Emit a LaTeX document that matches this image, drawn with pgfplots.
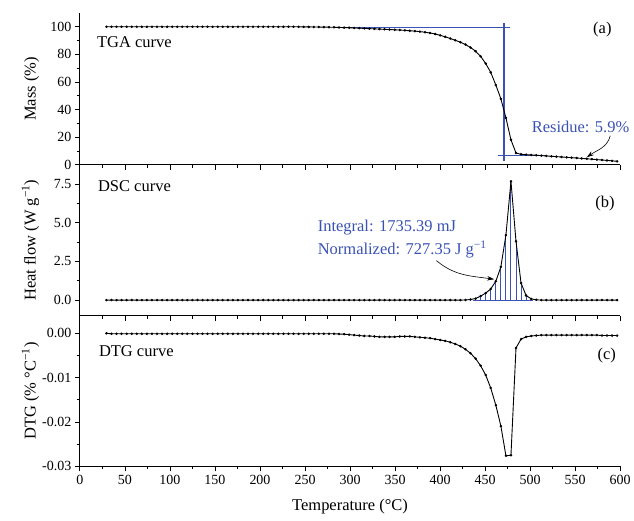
\documentclass[border=0pt]{standalone}
\usepackage{fontspec}
\setmainfont{Liberation Serif}
\usepackage{pgfplots}
\pgfplotsset{compat=1.18}
\usepackage{pgfplotstable}
\usetikzlibrary{arrows.meta}
\definecolor{ablue}{RGB}{58,82,180}
\newcommand\lf{\fontsize{16.5}{19.8}\selectfont}
\newcommand\tf{\fontsize{14}{16.8}\selectfont}

\pgfplotstableread{
T M H D
29.5 100.0 0 0.0000
35.1 100.0 0 -0.0001
40.7 100.0 0 -0.0001
46.3 100.0 0 -0.0001
52.0 100.0 0 -0.0001
57.6 100.0 0 -0.0001
63.2 100.0 0 -0.0001
68.8 100.0 0 -0.0001
74.4 100.0 0 -0.0001
80.0 100.0 0 -0.0001
85.7 100.0 0 -0.0001
91.3 100.0 0 -0.0001
96.9 100.0 0 -0.0001
102.5 100.0 0 -0.0001
108.1 100.0 0 -0.0001
113.7 100.0 0 -0.0001
119.3 100.0 0 -0.0001
125.0 100.0 0 -0.0001
130.6 100.0 0 -0.0001
136.2 100.0 0 -0.0001
141.8 100.0 0 -0.0001
147.4 100.0 0 -0.0001
153.0 100.0 0 -0.0001
158.6 100.0 0 -0.0001
164.3 100.0 0 -0.0001
169.9 100.0 0 -0.0001
175.5 100.0 0 -0.0001
181.1 100.0 0 -0.0001
186.7 100.0 0 -0.0001
192.3 100.0 0 -0.0001
198.0 100.0 0 -0.0001
203.6 100.0 0 -0.0001
209.2 100.0 0 -0.0001
214.8 100.0 0 -0.0001
220.4 100.0 0 -0.0001
226.0 100.0 0 -0.0001
231.6 100.0 0 -0.0001
237.3 100.0 0 -0.0001
242.9 100.0 0 -0.0001
248.5 99.95 0 -0.0001
254.1 99.9 0 -0.0001
259.7 99.85 0 -0.0001
265.3 99.8 0 -0.0001
270.9 99.75 0 -0.0001
276.6 99.7 0 -0.0001
282.2 99.6 0 -0.0001
287.8 99.5 0 -0.00015
293.4 99.4 0 -0.0002
299.0 99.3 0 -0.0003
304.6 99.15 0 -0.0004
310.3 99.0 0 -0.0005
315.9 98.8 0 -0.0006
321.5 98.65 0 -0.0006
327.1 98.5 0 -0.0007
332.7 98.3 0 -0.0008
338.3 98.15 0 -0.0008
343.9 98.0 0 -0.0008
349.6 97.8 0 -0.0008
355.2 97.6 0 -0.0007
360.8 97.4 0 -0.0007
366.4 97.1 0 -0.0007
372.0 96.85 0 -0.0008
377.6 96.5 0 -0.0009
383.2 96.05 0 -0.0010
388.9 95.5 0 -0.0011
394.5 94.75 0 -0.0013
400.1 93.8 0 -0.0015
405.7 92.7 0 -0.0017
411.3 91.5 0 -0.0020
416.9 90.2 0 -0.0024
422.6 88.8 0 -0.0029
428.2 87.1 0.01 -0.0036
433.8 85.0 0.04 -0.0045
439.4 82.3 0.10 -0.0057
445.0 78.6 0.26 -0.0073
450.6 73.4 0.45 -0.0094
456.2 67.0 0.72 -0.0123
461.9 57.8 1.22 -0.0162
467.5 47.8 2.15 -0.0209
473.1 34.0 4.20 -0.0276
478.7 18.1 7.68 -0.0275
484.3 8.5 3.80 -0.0033
489.9 7.6 1.10 -0.0013
495.5 7.3 0.30 -0.0008
501.2 7.1 0.08 -0.0006
506.8 6.9 0.02 -0.0005
512.4 6.65 0 -0.0004
518.0 6.4 0 -0.0004
523.6 6.15 0 -0.0004
529.2 5.9 0 -0.0004
534.9 5.65 0 -0.0004
540.5 5.4 0 -0.0004
546.1 5.15 0 -0.0004
551.7 4.9 0 -0.0004
557.3 4.6 0 -0.0004
562.9 4.35 0 -0.0004
568.5 4.05 0 -0.0004
574.2 3.75 0 -0.0004
579.8 3.45 0 -0.0005
585.4 3.15 0 -0.0005
591.0 2.85 0 -0.0005
596.6 2.5 0 -0.0005
}\data

\tikzset{arr/.style={-{Stealth[length=7pt,width=4.5pt]}, line width=0.6pt, black}}

\pgfplotsset{
  base/.style={
    scale only axis, width=541pt,
    xmin=0, xmax=600, xtick={0,50,...,600}, minor x tick num=1,
    axis x line*=bottom, axis y line*=left,
    axis line style={-, line width=1pt},
    tick align=outside, major tick length=5pt, minor tick length=3pt,
    every tick/.style={black, line width=0.8pt},
    tick label style={font=\tf},
    label style={font=\lf},
    ylabel style={at={(axis description cs:-0.0749,0.5)}, anchor=south, inner sep=0pt},
    /pgf/number format/assume math mode=true,
    clip=false,
  },
  curve/.style={black, line width=0.9pt, mark=*, mark size=0.75pt, mark options={solid, fill=black}},
}

\begin{document}
\begin{tikzpicture}
\path (0pt,0pt) (634pt,521pt);

% (a) TGA
\begin{axis}[base, at={(80pt,356pt)}, anchor=south west, height=152pt,
  ymin=0, ymax=110, ytick={0,20,...,100}, minor y tick num=1,
  xticklabels={}, ylabel={Mass (\%)}]
\addplot[ablue, line width=1.1pt] coordinates {(292,99.6) (477.6,99.6)};
\addplot[ablue, line width=1.1pt] coordinates {(471,102.5) (471,2.4)};
\addplot[ablue, line width=1.1pt] coordinates {(464,6.8) (517,6.8)};
\addplot[curve] table[x=T,y=M]{\data};
\node[anchor=west, inner sep=0pt, font=\lf] at (rel axis cs:0.0314,0.809) {TGA curve};
\node[inner sep=0pt, font=\lf] at (rel axis cs:0.967,0.888) {(a)};
\node[ablue, inner sep=0pt, font=\lf] at (axis cs:556,27.8) {Residue: 5.9\%};
\draw[arr] (axis cs:589,21) to[out=255,in=35] (axis cs:563,5.5);
\end{axis}

% (b) DSC
\begin{axis}[base, at={(80pt,205pt)}, anchor=south west, height=151pt,
  ymin=-1, ymax=8.75, ytick={0,2.5,5,7.5}, minor y tick num=1,
  yticklabel style={/pgf/number format/.cd, fixed, fixed zerofill, precision=1},
  xticklabels={}, ylabel={Heat flow (W g\textsuperscript{−1})}]
\addplot[ablue, line width=1pt, ycomb, restrict x to domain=436:503] table[x=T,y=H]{\data};
\addplot[ablue, line width=1pt] coordinates {(436,0) (503,0)};
\addplot[curve] table[x=T,y=H]{\data};
\node[anchor=west, inner sep=0pt, font=\lf] at (rel axis cs:0.0333,0.861) {DSC curve};
\node[inner sep=0pt, font=\lf] at (rel axis cs:0.972,0.746) {(b)};
\node[ablue, anchor=base west, inner sep=0pt, font=\lf] at (axis cs:264,4.46) {Integral: 1735.39 mJ};
\node[ablue, anchor=base west, inner sep=0pt, font=\lf] at (axis cs:264,2.94) {Normalized: 727.35 J g\textsuperscript{−1}};
\draw[arr] (axis cs:396,2.55) to[out=-40,in=172] (axis cs:460,1.35);
\end{axis}

% (c) DTG
\begin{axis}[base, at={(80pt,54pt)}, anchor=south west, height=151pt,
  ymin=-0.03, ymax=0.004, ytick={-0.03,-0.02,-0.01,0}, minor y tick num=1,
  scaled y ticks=false,
  yticklabel style={/pgf/number format/.cd, fixed, fixed zerofill, precision=2},
  xlabel={Temperature (°C)},
  xlabel style={at={(axis description cs:0.5,-0.263)}, anchor=center},
  ylabel={DTG (\% °C\textsuperscript{−1})}]
\addplot[curve] table[x=T,y=D]{\data};
\node[anchor=west, inner sep=0pt, font=\lf] at (rel axis cs:0.035,0.764) {DTG curve};
\node[inner sep=0pt, font=\lf] at (rel axis cs:0.975,0.737) {(c)};
\end{axis}
\end{tikzpicture}
\end{document}
